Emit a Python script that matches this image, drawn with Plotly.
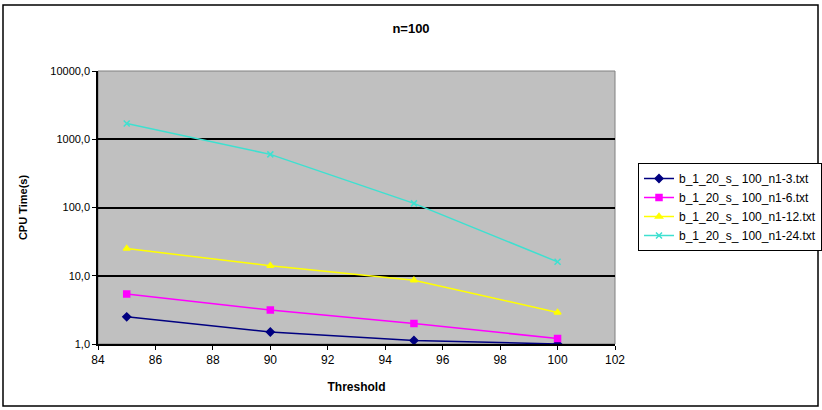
import plotly.graph_objects as go

thresholds = [85, 90, 95, 100]
s_n1_3 = [2.5, 1.5, 1.13, 1.0]
s_n1_6 = [5.4, 3.15, 2.0, 1.2]
s_n1_12 = [25.0, 14.0, 8.6, 2.9]
s_n1_24 = [1700.0, 600.0, 115.0, 16.0]

series_names = ["b_1_20_s_ 100_n1-3.txt", "b_1_20_s_ 100_n1-6.txt",
                "b_1_20_s_ 100_n1-12.txt", "b_1_20_s_ 100_n1-24.txt"]
y_tick_vals = [1, 10, 100, 1000, 10000]
y_tick_text = ["1,0", "10,0", "100,0", "1000,0", "10000,0"]
x_tick_vals = [84, 86, 88, 90, 92, 94, 96, 98, 100, 102]

colors = ["#000080", "#FF00FF", "#FFFF00", "#3EE0D0"]
symbols = ["diamond", "square", "triangle-up", "x-thin"]
data = [s_n1_3, s_n1_6, s_n1_12, s_n1_24]

fig = go.Figure()
for name, vals, c, s in zip(series_names, data, colors, symbols):
    fig.add_trace(go.Scatter(
        x=thresholds, y=vals, name=name, mode="lines+markers",
        line=dict(color=c, width=1.5),
        marker=dict(symbol=s, size=6, color=c, line=dict(color=c, width=1.5)),
    ))

L, R, T, B = 98, 207, 71, 66
W, H = 822, 410
pw, ph = W - L - R, H - T - B

fig.update_layout(
    width=W, height=H,
    margin=dict(l=L, r=R, t=T, b=B, pad=0, autoexpand=False),
    paper_bgcolor="white",
    plot_bgcolor="#C0C0C0",
    font=dict(family="Liberation Sans, Arial, sans-serif", size=11, color="black"),
    title=dict(text="<b>n=100</b>", x=(411) / W, xanchor="center",
               y=1 - 28 / H, yanchor="middle", font=dict(size=13)),
    showlegend=True,
    legend=dict(x=(638 - L) / pw, y=(H - B - 163) / ph, xanchor="left", yanchor="top",
                bordercolor="black", borderwidth=1, bgcolor="white",
                font=dict(size=12), itemwidth=30, tracegroupgap=2),
    xaxis=dict(range=[84, 102], tickvals=x_tick_vals, ticks="outside", ticklen=4,
               tickcolor="black", showline=True, linecolor="black", linewidth=1.5,
               showgrid=False, zeroline=False, tickfont=dict(size=12),
               title=dict(text="<b>Threshold</b>", standoff=16, font=dict(size=12))),
    yaxis=dict(type="log", range=[0, 4], tickvals=y_tick_vals, ticktext=y_tick_text,
               ticks="outside", ticklen=4, tickcolor="black", showline=True,
               linecolor="black", linewidth=1.5, showgrid=True, gridcolor="black",
               gridwidth=1.5, zeroline=False, tickfont=dict(size=11),
               title=dict(text="<b>CPU Time(s)</b>", standoff=20, font=dict(size=11))),
)

# plot area border (top/right gray)
fig.add_shape(type="rect", xref="paper", yref="paper", x0=0, x1=1, y0=0, y1=1,
              line=dict(color="#808080", width=1), layer="below")
# chart border
fig.add_shape(type="rect", xref="paper", yref="paper",
              x0=(3 - L) / pw, x1=(818 - L) / pw,
              y0=(H - B - 406) / ph, y1=(H - B - 5) / ph,
              line=dict(color="black", width=1.5))

fig.write_html("out.html", config={"displayModeBar": False},
               post_script="document.body.style.margin='0px';")
